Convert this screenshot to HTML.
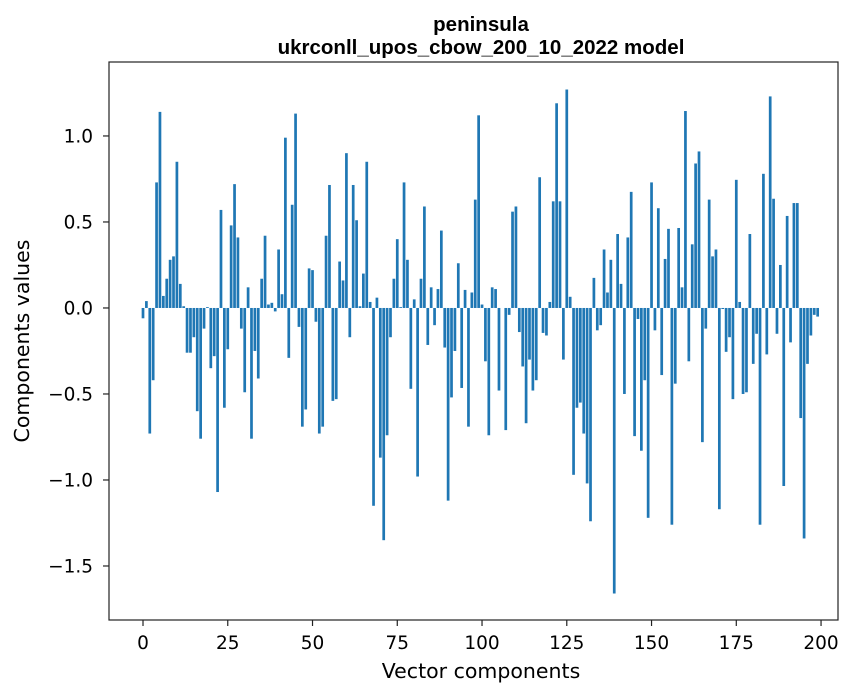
<!DOCTYPE html>
<html><head><meta charset="utf-8"><style>
html,body{margin:0;padding:0;background:#fff;}
svg{display:block;font-family:"DejaVu Sans","Liberation Sans",sans-serif;}
</style></head><body>
<svg id="chart" width="867" height="696" viewBox="0 0 867 696" xmlns="http://www.w3.org/2000/svg">
<text x="481" y="31" text-anchor="middle" font-size="20.5" font-weight="bold" fill="#000" style="font-family:'Liberation Sans',sans-serif">peninsula</text>
<text x="481" y="54" text-anchor="middle" font-size="20.5" font-weight="bold" fill="#000" style="font-family:'Liberation Sans',sans-serif">ukrconll_upos_cbow_200_10_2022 model</text>
<g id="bars"></g>
<rect x="109" y="62" width="729" height="558" fill="none" stroke="#222" stroke-width="1.2"/>
<g id="xticks"></g>
<g id="yticks"></g>
<text x="481" y="678" text-anchor="middle" font-size="20.5" fill="#000">Vector components</text>
<text x="0" y="0" transform="translate(29,341) rotate(-90)" text-anchor="middle" font-size="20.5" fill="#000">Components values</text>
</svg>
<script>
const values = [
-0.06,0.04,-0.73,-0.42,0.73,1.14,0.07,0.17,0.28,0.30,
0.85,0.14,0.01,-0.26,-0.26,-0.17,-0.60,-0.76,-0.12,0.005,
-0.35,-0.28,-1.07,0.57,-0.58,-0.24,0.48,0.72,0.41,-0.12,
-0.49,0.12,-0.76,-0.25,-0.41,0.17,0.42,0.02,0.03,-0.02,
0.34,0.08,0.99,-0.29,0.60,1.13,-0.11,-0.69,-0.59,0.23,
0.22,-0.08,-0.73,-0.69,0.42,0.715,-0.54,-0.53,0.27,0.16,
0.90,-0.17,0.715,0.51,0.01,0.20,0.85,0.035,-1.15,0.06,
-0.87,-1.35,-0.74,-0.17,0.17,0.40,0.005,0.73,0.28,-0.47,
0.05,-0.98,0.17,0.59,-0.215,0.12,-0.10,0.11,0.45,-0.23,
-1.12,-0.52,-0.25,0.26,-0.465,0.105,-0.69,0.09,0.63,1.12,
0.02,-0.31,-0.74,0.12,0.11,-0.48,0.0,-0.71,-0.04,0.56,
0.59,-0.14,-0.34,-0.67,-0.30,-0.48,-0.42,0.76,-0.145,-0.16,
0.035,0.62,1.19,0.62,-0.30,1.27,0.065,-0.97,-0.58,-0.55,
-0.73,-1.02,-1.24,0.175,-0.13,-0.10,0.34,0.09,0.28,-1.66,
0.43,0.14,-0.50,0.41,0.675,-0.745,-0.064,-0.83,-0.42,-1.22,
0.73,-0.13,0.58,-0.39,0.285,0.46,-1.26,-0.44,0.465,0.12,
1.145,-0.31,0.37,0.84,0.91,-0.78,-0.12,0.63,0.30,0.34,
-1.17,-0.006,-0.255,-0.17,-0.53,0.745,0.035,-0.50,-0.49,0.43,
-0.325,-0.15,-1.26,0.78,-0.27,1.23,0.635,-0.15,0.25,-1.035,
0.535,-0.20,0.61,0.61,-0.64,-1.34,-0.325,-0.16,-0.04,-0.05
];
const xTicks = [0,25,50,75,100,125,150,175,200];
const yTicks = [-1.5,-1.0,-0.5,0.0,0.5,1.0];
const yTickLabels = ["\u22121.5","\u22121.0","\u22120.5","0.0","0.5","1.0"];

const NS = "http://www.w3.org/2000/svg";
const X0=109, X1=838, Y0=62, Y1=620;
const xmin=-10.03, xmax=205.0, ymin=-1.814, ymax=1.430;
function xs(v){return X0+(v-xmin)/(xmax-xmin)*(X1-X0);}
function ys(v){return Y1-(v-ymin)/(ymax-ymin)*(Y1-Y0);}
const bars=document.getElementById('bars');
const bw = xs(0.8)-xs(0);
values.forEach((v,i)=>{
  const r=document.createElementNS(NS,'rect');
  
  
  const y=Math.min(ys(v),ys(0));
  r.setAttribute('x',xs(i)-bw/2);
  r.setAttribute('y',y);
  r.setAttribute('width',bw);
  r.setAttribute('height',Math.abs(ys(v)-ys(0)));
  r.setAttribute('fill','#1f77b4');
  bars.appendChild(r);
});
const xg=document.getElementById('xticks');
xTicks.forEach(t=>{
  const l=document.createElementNS(NS,'line');
  
  
  l.setAttribute('x1',xs(t));l.setAttribute('x2',xs(t));
  l.setAttribute('y1',Y1);l.setAttribute('y2',Y1+6);
  l.setAttribute('stroke','#222');l.setAttribute('stroke-width','1.2');
  xg.appendChild(l);
  const tx=document.createElementNS(NS,'text');
  
  
  tx.setAttribute('x',xs(t));tx.setAttribute('y',649);
  tx.setAttribute('text-anchor','middle');tx.setAttribute('font-size','18.5');
  tx.textContent=String(t);
  xg.appendChild(tx);
});
const yg=document.getElementById('yticks');
yTicks.forEach((t,i)=>{
  const l=document.createElementNS(NS,'line');
  
  
  l.setAttribute('x1',X0-6);l.setAttribute('x2',X0);
  l.setAttribute('y1',ys(t));l.setAttribute('y2',ys(t));
  l.setAttribute('stroke','#222');l.setAttribute('stroke-width','1.2');
  yg.appendChild(l);
  const tx=document.createElementNS(NS,'text');
  
  
  tx.setAttribute('x',93);tx.setAttribute('y',ys(t)+6.7);
  tx.setAttribute('text-anchor','end');tx.setAttribute('font-size','18.5');
  tx.textContent=yTickLabels[i];
  yg.appendChild(tx);
});
</script>
</body></html>
